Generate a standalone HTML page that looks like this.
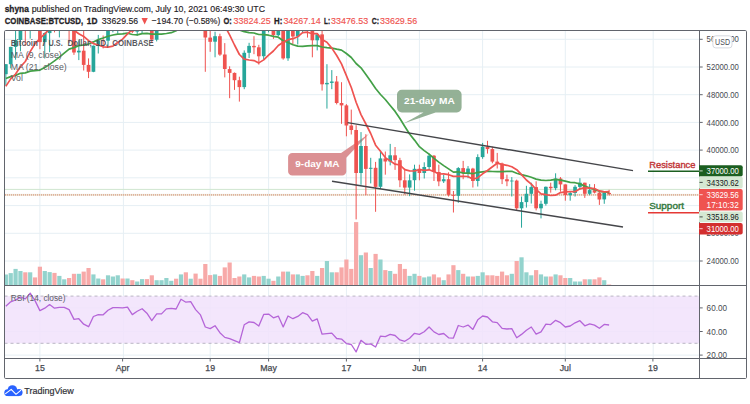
<!DOCTYPE html>
<html><head><meta charset="utf-8"><title>BTCUSD</title>
<style>html,body{margin:0;padding:0;background:#fff;width:750px;height:404px;overflow:hidden;font-family:"Liberation Sans",sans-serif}</style></head>
<body>
<svg width="750" height="404" viewBox="0 0 750 404" style="position:absolute;left:0;top:0;font-family:'Liberation Sans',sans-serif">
<rect x="0" y="0" width="750" height="404" fill="#fff"/>
<defs><clipPath id="cm"><rect x="4.5" y="30.5" width="695.0" height="255.0"/></clipPath>
<clipPath id="cr"><rect x="4.5" y="285.5" width="695.0" height="73.0"/></clipPath></defs>
<line x1="39.9" y1="30.5" x2="39.9" y2="358.5" stroke="#e6eff4" stroke-width="1"/>
<line x1="123.4" y1="30.5" x2="123.4" y2="358.5" stroke="#e6eff4" stroke-width="1"/>
<line x1="210.2" y1="30.5" x2="210.2" y2="358.5" stroke="#e6eff4" stroke-width="1"/>
<line x1="268.6" y1="30.5" x2="268.6" y2="358.5" stroke="#e6eff4" stroke-width="1"/>
<line x1="346.4" y1="30.5" x2="346.4" y2="358.5" stroke="#e6eff4" stroke-width="1"/>
<line x1="419.4" y1="30.5" x2="419.4" y2="358.5" stroke="#e6eff4" stroke-width="1"/>
<line x1="482.6" y1="30.5" x2="482.6" y2="358.5" stroke="#e6eff4" stroke-width="1"/>
<line x1="565.3" y1="30.5" x2="565.3" y2="358.5" stroke="#e6eff4" stroke-width="1"/>
<line x1="653.2" y1="30.5" x2="653.2" y2="358.5" stroke="#e6eff4" stroke-width="1"/>
<line x1="4.5" y1="261.0" x2="699.5" y2="261.0" stroke="#e6eff4" stroke-width="1"/>
<line x1="4.5" y1="233.3" x2="699.5" y2="233.3" stroke="#e6eff4" stroke-width="1"/>
<line x1="4.5" y1="205.6" x2="699.5" y2="205.6" stroke="#e6eff4" stroke-width="1"/>
<line x1="4.5" y1="177.8" x2="699.5" y2="177.8" stroke="#e6eff4" stroke-width="1"/>
<line x1="4.5" y1="150.1" x2="699.5" y2="150.1" stroke="#e6eff4" stroke-width="1"/>
<line x1="4.5" y1="122.4" x2="699.5" y2="122.4" stroke="#e6eff4" stroke-width="1"/>
<line x1="4.5" y1="94.7" x2="699.5" y2="94.7" stroke="#e6eff4" stroke-width="1"/>
<line x1="4.5" y1="67.0" x2="699.5" y2="67.0" stroke="#e6eff4" stroke-width="1"/>
<line x1="4.5" y1="39.3" x2="699.5" y2="39.3" stroke="#e6eff4" stroke-width="1"/>
<line x1="4.5" y1="355.1" x2="699.5" y2="355.1" stroke="#e6eff4" stroke-width="1"/>
<line x1="4.5" y1="331.5" x2="699.5" y2="331.5" stroke="#e6eff4" stroke-width="1"/>
<line x1="4.5" y1="307.9" x2="699.5" y2="307.9" stroke="#e6eff4" stroke-width="1"/>
<rect x="4.5" y="296.1" width="695.0" height="47.2" fill="#f1e2fc" fill-opacity="0.85"/>
<line x1="4.5" y1="296.1" x2="699.5" y2="296.1" stroke="#b3afbd" stroke-width="0.9" stroke-dasharray="3,3"/>
<line x1="4.5" y1="343.3" x2="699.5" y2="343.3" stroke="#b3afbd" stroke-width="0.9" stroke-dasharray="3,3"/>
<g clip-path="url(#cm)">
<rect x="3.75" y="274.5" width="4.2" height="11.0" fill="#93d3cd"/>
<rect x="8.62" y="273.1" width="4.2" height="12.4" fill="#93d3cd"/>
<rect x="13.48" y="268.9" width="4.2" height="16.6" fill="#93d3cd"/>
<rect x="18.34" y="271.0" width="4.2" height="14.5" fill="#93d3cd"/>
<rect x="23.21" y="272.3" width="4.2" height="13.2" fill="#f7a9a8"/>
<rect x="28.08" y="272.3" width="4.2" height="13.2" fill="#93d3cd"/>
<rect x="32.94" y="277.4" width="4.2" height="8.1" fill="#f7a9a8"/>
<rect x="37.80" y="266.7" width="4.2" height="18.8" fill="#f7a9a8"/>
<rect x="42.67" y="271.0" width="4.2" height="14.5" fill="#93d3cd"/>
<rect x="47.54" y="272.1" width="4.2" height="13.4" fill="#93d3cd"/>
<rect x="52.40" y="272.9" width="4.2" height="12.6" fill="#f7a9a8"/>
<rect x="57.27" y="275.9" width="4.2" height="9.6" fill="#93d3cd"/>
<rect x="62.13" y="279.3" width="4.2" height="6.2" fill="#93d3cd"/>
<rect x="67.00" y="278.0" width="4.2" height="7.5" fill="#f7a9a8"/>
<rect x="71.86" y="273.8" width="4.2" height="11.7" fill="#f7a9a8"/>
<rect x="76.73" y="273.8" width="4.2" height="11.7" fill="#93d3cd"/>
<rect x="81.59" y="271.6" width="4.2" height="13.9" fill="#f7a9a8"/>
<rect x="86.45" y="268.0" width="4.2" height="17.5" fill="#f7a9a8"/>
<rect x="91.32" y="274.4" width="4.2" height="11.1" fill="#93d3cd"/>
<rect x="96.19" y="278.5" width="4.2" height="7.0" fill="#93d3cd"/>
<rect x="101.05" y="279.3" width="4.2" height="6.2" fill="#f7a9a8"/>
<rect x="105.92" y="275.3" width="4.2" height="10.2" fill="#93d3cd"/>
<rect x="110.78" y="276.5" width="4.2" height="9.0" fill="#93d3cd"/>
<rect x="115.65" y="275.3" width="4.2" height="10.2" fill="#93d3cd"/>
<rect x="120.51" y="278.5" width="4.2" height="7.0" fill="#f7a9a8"/>
<rect x="125.38" y="278.5" width="4.2" height="7.0" fill="#93d3cd"/>
<rect x="130.24" y="280.2" width="4.2" height="5.3" fill="#f7a9a8"/>
<rect x="135.11" y="281.5" width="4.2" height="4.0" fill="#93d3cd"/>
<rect x="139.97" y="279.1" width="4.2" height="6.4" fill="#93d3cd"/>
<rect x="144.84" y="279.1" width="4.2" height="6.4" fill="#f7a9a8"/>
<rect x="149.70" y="275.3" width="4.2" height="10.2" fill="#f7a9a8"/>
<rect x="154.56" y="280.2" width="4.2" height="5.3" fill="#93d3cd"/>
<rect x="159.43" y="280.2" width="4.2" height="5.3" fill="#93d3cd"/>
<rect x="164.30" y="278.0" width="4.2" height="7.5" fill="#93d3cd"/>
<rect x="169.16" y="280.8" width="4.2" height="4.7" fill="#93d3cd"/>
<rect x="174.03" y="278.7" width="4.2" height="6.8" fill="#f7a9a8"/>
<rect x="178.89" y="274.4" width="4.2" height="11.1" fill="#93d3cd"/>
<rect x="183.75" y="272.3" width="4.2" height="13.2" fill="#f7a9a8"/>
<rect x="188.62" y="278.7" width="4.2" height="6.8" fill="#93d3cd"/>
<rect x="193.49" y="273.6" width="4.2" height="11.9" fill="#f7a9a8"/>
<rect x="198.35" y="278.7" width="4.2" height="6.8" fill="#f7a9a8"/>
<rect x="203.22" y="264.0" width="4.2" height="21.5" fill="#f7a9a8"/>
<rect x="208.08" y="275.1" width="4.2" height="10.4" fill="#f7a9a8"/>
<rect x="212.95" y="274.4" width="4.2" height="11.1" fill="#93d3cd"/>
<rect x="217.81" y="275.9" width="4.2" height="9.6" fill="#f7a9a8"/>
<rect x="222.68" y="267.4" width="4.2" height="18.1" fill="#f7a9a8"/>
<rect x="227.54" y="262.5" width="4.2" height="23.0" fill="#f7a9a8"/>
<rect x="232.41" y="278.0" width="4.2" height="7.5" fill="#f7a9a8"/>
<rect x="237.27" y="276.5" width="4.2" height="9.0" fill="#f7a9a8"/>
<rect x="242.14" y="274.4" width="4.2" height="11.1" fill="#93d3cd"/>
<rect x="247.00" y="277.4" width="4.2" height="8.1" fill="#93d3cd"/>
<rect x="251.87" y="275.9" width="4.2" height="9.6" fill="#f7a9a8"/>
<rect x="256.73" y="276.5" width="4.2" height="9.0" fill="#f7a9a8"/>
<rect x="261.60" y="275.9" width="4.2" height="9.6" fill="#93d3cd"/>
<rect x="266.46" y="278.7" width="4.2" height="6.8" fill="#93d3cd"/>
<rect x="271.32" y="280.8" width="4.2" height="4.7" fill="#f7a9a8"/>
<rect x="276.19" y="276.5" width="4.2" height="9.0" fill="#93d3cd"/>
<rect x="281.06" y="271.6" width="4.2" height="13.9" fill="#f7a9a8"/>
<rect x="285.92" y="271.6" width="4.2" height="13.9" fill="#93d3cd"/>
<rect x="290.79" y="274.4" width="4.2" height="11.1" fill="#f7a9a8"/>
<rect x="295.65" y="274.4" width="4.2" height="11.1" fill="#93d3cd"/>
<rect x="300.51" y="275.9" width="4.2" height="9.6" fill="#93d3cd"/>
<rect x="305.38" y="275.3" width="4.2" height="10.2" fill="#f7a9a8"/>
<rect x="310.25" y="271.0" width="4.2" height="14.5" fill="#f7a9a8"/>
<rect x="315.11" y="275.9" width="4.2" height="9.6" fill="#93d3cd"/>
<rect x="319.98" y="268.0" width="4.2" height="17.5" fill="#f7a9a8"/>
<rect x="324.84" y="261.0" width="4.2" height="24.5" fill="#93d3cd"/>
<rect x="329.71" y="272.3" width="4.2" height="13.2" fill="#93d3cd"/>
<rect x="334.57" y="272.3" width="4.2" height="13.2" fill="#f7a9a8"/>
<rect x="339.44" y="267.4" width="4.2" height="18.1" fill="#f7a9a8"/>
<rect x="344.30" y="259.5" width="4.2" height="26.0" fill="#f7a9a8"/>
<rect x="349.17" y="268.9" width="4.2" height="16.6" fill="#f7a9a8"/>
<rect x="354.03" y="222.1" width="4.2" height="63.4" fill="#f7a9a8"/>
<rect x="358.90" y="255.2" width="4.2" height="30.3" fill="#93d3cd"/>
<rect x="363.76" y="252.5" width="4.2" height="33.0" fill="#f7a9a8"/>
<rect x="368.62" y="268.0" width="4.2" height="17.5" fill="#93d3cd"/>
<rect x="373.49" y="253.9" width="4.2" height="31.6" fill="#f7a9a8"/>
<rect x="378.36" y="259.5" width="4.2" height="26.0" fill="#93d3cd"/>
<rect x="383.22" y="270.1" width="4.2" height="15.4" fill="#f7a9a8"/>
<rect x="388.09" y="271.0" width="4.2" height="14.5" fill="#93d3cd"/>
<rect x="392.95" y="273.8" width="4.2" height="11.7" fill="#f7a9a8"/>
<rect x="397.81" y="264.0" width="4.2" height="21.5" fill="#f7a9a8"/>
<rect x="402.68" y="268.9" width="4.2" height="16.6" fill="#f7a9a8"/>
<rect x="407.55" y="275.9" width="4.2" height="9.6" fill="#93d3cd"/>
<rect x="412.41" y="273.8" width="4.2" height="11.7" fill="#93d3cd"/>
<rect x="417.28" y="275.9" width="4.2" height="9.6" fill="#f7a9a8"/>
<rect x="422.14" y="277.4" width="4.2" height="8.1" fill="#93d3cd"/>
<rect x="427.00" y="276.5" width="4.2" height="9.0" fill="#93d3cd"/>
<rect x="431.87" y="274.4" width="4.2" height="11.1" fill="#f7a9a8"/>
<rect x="436.74" y="277.4" width="4.2" height="8.1" fill="#f7a9a8"/>
<rect x="441.60" y="280.2" width="4.2" height="5.3" fill="#93d3cd"/>
<rect x="446.47" y="274.4" width="4.2" height="11.1" fill="#f7a9a8"/>
<rect x="451.33" y="265.2" width="4.2" height="20.3" fill="#f7a9a8"/>
<rect x="456.19" y="270.1" width="4.2" height="15.4" fill="#93d3cd"/>
<rect x="461.06" y="273.8" width="4.2" height="11.7" fill="#f7a9a8"/>
<rect x="465.93" y="276.5" width="4.2" height="9.0" fill="#93d3cd"/>
<rect x="470.79" y="276.5" width="4.2" height="9.0" fill="#f7a9a8"/>
<rect x="475.66" y="275.9" width="4.2" height="9.6" fill="#93d3cd"/>
<rect x="480.52" y="272.3" width="4.2" height="13.2" fill="#93d3cd"/>
<rect x="485.39" y="275.3" width="4.2" height="10.2" fill="#f7a9a8"/>
<rect x="490.25" y="275.3" width="4.2" height="10.2" fill="#f7a9a8"/>
<rect x="495.12" y="275.9" width="4.2" height="9.6" fill="#f7a9a8"/>
<rect x="499.98" y="271.6" width="4.2" height="13.9" fill="#f7a9a8"/>
<rect x="504.85" y="275.3" width="4.2" height="10.2" fill="#f7a9a8"/>
<rect x="509.71" y="273.8" width="4.2" height="11.7" fill="#93d3cd"/>
<rect x="514.58" y="261.0" width="4.2" height="24.5" fill="#f7a9a8"/>
<rect x="519.44" y="257.3" width="4.2" height="28.2" fill="#93d3cd"/>
<rect x="524.31" y="272.3" width="4.2" height="13.2" fill="#93d3cd"/>
<rect x="529.17" y="275.3" width="4.2" height="10.2" fill="#93d3cd"/>
<rect x="534.03" y="270.1" width="4.2" height="15.4" fill="#f7a9a8"/>
<rect x="538.90" y="274.4" width="4.2" height="11.1" fill="#93d3cd"/>
<rect x="543.76" y="276.5" width="4.2" height="9.0" fill="#93d3cd"/>
<rect x="548.63" y="276.5" width="4.2" height="9.0" fill="#f7a9a8"/>
<rect x="553.50" y="274.4" width="4.2" height="11.1" fill="#93d3cd"/>
<rect x="558.36" y="275.3" width="4.2" height="10.2" fill="#f7a9a8"/>
<rect x="563.23" y="278.0" width="4.2" height="7.5" fill="#f7a9a8"/>
<rect x="568.09" y="278.0" width="4.2" height="7.5" fill="#93d3cd"/>
<rect x="572.96" y="281.5" width="4.2" height="4.0" fill="#93d3cd"/>
<rect x="577.82" y="281.5" width="4.2" height="4.0" fill="#93d3cd"/>
<rect x="582.69" y="279.3" width="4.2" height="6.2" fill="#f7a9a8"/>
<rect x="587.55" y="279.3" width="4.2" height="6.2" fill="#93d3cd"/>
<rect x="592.42" y="279.3" width="4.2" height="6.2" fill="#f7a9a8"/>
<rect x="597.28" y="277.4" width="4.2" height="8.1" fill="#f7a9a8"/>
<rect x="602.14" y="280.2" width="4.2" height="5.3" fill="#93d3cd"/>
<rect x="607.01" y="284.5" width="4.2" height="1.0" fill="#f7a9a8"/>
<line x1="4.5" y1="189.4" x2="699.5" y2="189.4" stroke="#cfe6cf" stroke-width="1"/>
<rect x="4.5" y="193.9" width="695.0" height="1.9" fill="#ebe4d4" fill-opacity="0.9"/>
<line x1="5" y1="194.85" x2="699.5" y2="194.85" stroke="#d98f78" stroke-width="1.9" stroke-dasharray="1,1" stroke-opacity="0.62"/>
<path d="M401.8 89.8 H456.8 a4.8 4.8 0 0 1 4.8 4.8 V107.6 a4.8 4.8 0 0 1 -4.8 4.8 H435.6 L403.6 123.4 L423.5 112.4 H401.8 a4.8 4.8 0 0 1 -4.8 -4.8 V94.6 a4.8 4.8 0 0 1 4.8 -4.8 Z" fill="#8cab8e" fill-opacity="0.93"/>
<text x="404" y="103.9" font-size="8.7" font-weight="bold" fill="#fff" textLength="50.7" lengthAdjust="spacingAndGlyphs">21-day MA</text>
<path d="M292.3 152.9 H341.1 L369 133.8 L346.3 157.7 V171.4 a4.2 4.2 0 0 1 -4.2 4.2 H292.3 a4.2 4.2 0 0 1 -4.2 -4.2 V157.1 a4.2 4.2 0 0 1 4.2 -4.2 Z" fill="#d98a8d" fill-opacity="0.95"/>
<text x="295.3" y="167" font-size="8.7" font-weight="bold" fill="#fff" textLength="44.2" lengthAdjust="spacingAndGlyphs">9-day MA</text>
<line x1="5.85" y1="64.1" x2="5.85" y2="85.7" stroke="#26a69a" stroke-width="1"/>
<rect x="4.00" y="64.2" width="3.7" height="10.0" fill="#26a69a"/>
<line x1="10.71" y1="46.8" x2="10.71" y2="68.4" stroke="#26a69a" stroke-width="1"/>
<rect x="8.87" y="46.9" width="3.7" height="17.3" fill="#26a69a"/>
<line x1="15.58" y1="29.6" x2="15.58" y2="59.7" stroke="#26a69a" stroke-width="1"/>
<rect x="13.73" y="40.0" width="3.7" height="6.9" fill="#26a69a"/>
<line x1="20.45" y1="24.4" x2="20.45" y2="51.3" stroke="#26a69a" stroke-width="1"/>
<rect x="18.59" y="26.8" width="3.7" height="13.2" fill="#26a69a"/>
<line x1="25.31" y1="24.9" x2="25.31" y2="45.9" stroke="#ef5350" stroke-width="1"/>
<rect x="23.46" y="26.8" width="3.7" height="3.8" fill="#ef5350"/>
<line x1="30.18" y1="-0.9" x2="30.18" y2="38.6" stroke="#26a69a" stroke-width="1"/>
<rect x="28.33" y="3.3" width="3.7" height="27.4" fill="#26a69a"/>
<line x1="35.04" y1="-0.2" x2="35.04" y2="18.9" stroke="#ef5350" stroke-width="1"/>
<rect x="33.19" y="3.3" width="3.7" height="15.2" fill="#ef5350"/>
<line x1="39.91" y1="7.4" x2="39.91" y2="49.2" stroke="#ef5350" stroke-width="1"/>
<rect x="38.05" y="18.5" width="3.7" height="23.6" fill="#ef5350"/>
<line x1="44.77" y1="32.6" x2="44.77" y2="58.5" stroke="#26a69a" stroke-width="1"/>
<rect x="42.92" y="33.1" width="3.7" height="9.0" fill="#26a69a"/>
<line x1="49.64" y1="18.6" x2="49.64" y2="52.2" stroke="#26a69a" stroke-width="1"/>
<rect x="47.79" y="19.2" width="3.7" height="13.9" fill="#26a69a"/>
<line x1="54.50" y1="10.9" x2="54.50" y2="32.4" stroke="#ef5350" stroke-width="1"/>
<rect x="52.65" y="19.2" width="3.7" height="8.7" fill="#ef5350"/>
<line x1="59.37" y1="15.3" x2="59.37" y2="37.4" stroke="#26a69a" stroke-width="1"/>
<rect x="57.52" y="24.7" width="3.7" height="3.1" fill="#26a69a"/>
<line x1="64.23" y1="12.3" x2="64.23" y2="26.8" stroke="#26a69a" stroke-width="1"/>
<rect x="62.38" y="24.7" width="3.7" height="0.8" fill="#26a69a"/>
<line x1="69.09" y1="21.1" x2="69.09" y2="42.8" stroke="#ef5350" stroke-width="1"/>
<rect x="67.25" y="24.7" width="3.7" height="4.8" fill="#ef5350"/>
<line x1="73.96" y1="22.5" x2="73.96" y2="54.9" stroke="#ef5350" stroke-width="1"/>
<rect x="72.11" y="29.6" width="3.7" height="22.9" fill="#ef5350"/>
<line x1="78.83" y1="40.3" x2="78.83" y2="60.1" stroke="#26a69a" stroke-width="1"/>
<rect x="76.98" y="50.7" width="3.7" height="1.7" fill="#26a69a"/>
<line x1="83.69" y1="31.0" x2="83.69" y2="70.5" stroke="#ef5350" stroke-width="1"/>
<rect x="81.84" y="50.7" width="3.7" height="14.2" fill="#ef5350"/>
<line x1="88.55" y1="58.4" x2="88.55" y2="78.1" stroke="#ef5350" stroke-width="1"/>
<rect x="86.70" y="64.9" width="3.7" height="6.9" fill="#ef5350"/>
<line x1="93.42" y1="45.5" x2="93.42" y2="72.2" stroke="#26a69a" stroke-width="1"/>
<rect x="91.57" y="45.7" width="3.7" height="26.1" fill="#26a69a"/>
<line x1="98.28" y1="34.9" x2="98.28" y2="53.5" stroke="#26a69a" stroke-width="1"/>
<rect x="96.44" y="40.3" width="3.7" height="5.4" fill="#26a69a"/>
<line x1="103.15" y1="35.5" x2="103.15" y2="48.4" stroke="#ef5350" stroke-width="1"/>
<rect x="101.30" y="40.3" width="3.7" height="0.8" fill="#ef5350"/>
<line x1="108.02" y1="22.7" x2="108.02" y2="46.9" stroke="#26a69a" stroke-width="1"/>
<rect x="106.17" y="28.2" width="3.7" height="12.5" fill="#26a69a"/>
<line x1="112.88" y1="15.7" x2="112.88" y2="32.4" stroke="#26a69a" stroke-width="1"/>
<rect x="111.03" y="19.9" width="3.7" height="8.3" fill="#26a69a"/>
<line x1="117.75" y1="13.0" x2="117.75" y2="33.7" stroke="#26a69a" stroke-width="1"/>
<rect x="115.90" y="19.9" width="3.7" height="0.8" fill="#26a69a"/>
<line x1="122.61" y1="15.0" x2="122.61" y2="26.1" stroke="#ef5350" stroke-width="1"/>
<rect x="120.76" y="19.9" width="3.7" height="0.8" fill="#ef5350"/>
<line x1="127.47" y1="10.9" x2="127.47" y2="22.7" stroke="#26a69a" stroke-width="1"/>
<rect x="125.62" y="18.5" width="3.7" height="1.9" fill="#26a69a"/>
<line x1="132.34" y1="13.0" x2="132.34" y2="33.1" stroke="#ef5350" stroke-width="1"/>
<rect x="130.49" y="18.5" width="3.7" height="13.2" fill="#ef5350"/>
<line x1="137.21" y1="22.0" x2="137.21" y2="35.8" stroke="#26a69a" stroke-width="1"/>
<rect x="135.36" y="24.0" width="3.7" height="7.6" fill="#26a69a"/>
<line x1="142.07" y1="16.8" x2="142.07" y2="33.7" stroke="#26a69a" stroke-width="1"/>
<rect x="140.22" y="17.8" width="3.7" height="6.2" fill="#26a69a"/>
<line x1="146.94" y1="15.0" x2="146.94" y2="30.3" stroke="#ef5350" stroke-width="1"/>
<rect x="145.09" y="17.8" width="3.7" height="7.6" fill="#ef5350"/>
<line x1="151.80" y1="20.9" x2="151.80" y2="43.1" stroke="#ef5350" stroke-width="1"/>
<rect x="149.95" y="25.4" width="3.7" height="14.2" fill="#ef5350"/>
<line x1="156.66" y1="24.4" x2="156.66" y2="41.4" stroke="#26a69a" stroke-width="1"/>
<rect x="154.81" y="24.9" width="3.7" height="14.8" fill="#26a69a"/>
<line x1="161.53" y1="19.2" x2="161.53" y2="27.9" stroke="#26a69a" stroke-width="1"/>
<rect x="159.68" y="24.7" width="3.7" height="0.8" fill="#26a69a"/>
<line x1="166.40" y1="3.3" x2="166.40" y2="26.1" stroke="#26a69a" stroke-width="1"/>
<rect x="164.55" y="13.0" width="3.7" height="11.8" fill="#26a69a"/>
<line x1="171.26" y1="6.7" x2="171.26" y2="17.1" stroke="#26a69a" stroke-width="1"/>
<rect x="169.41" y="11.6" width="3.7" height="1.4" fill="#26a69a"/>
<line x1="176.12" y1="3.3" x2="176.12" y2="15.7" stroke="#ef5350" stroke-width="1"/>
<rect x="174.28" y="11.6" width="3.7" height="1.0" fill="#ef5350"/>
<line x1="180.99" y1="-14.7" x2="180.99" y2="13.0" stroke="#26a69a" stroke-width="1"/>
<rect x="179.14" y="-13.4" width="3.7" height="26.0" fill="#26a69a"/>
<line x1="185.85" y1="-22.4" x2="185.85" y2="2.6" stroke="#ef5350" stroke-width="1"/>
<rect x="184.00" y="-13.4" width="3.7" height="4.5" fill="#ef5350"/>
<line x1="190.72" y1="-15.1" x2="190.72" y2="-2.3" stroke="#26a69a" stroke-width="1"/>
<rect x="188.87" y="-10.6" width="3.7" height="1.7" fill="#26a69a"/>
<line x1="195.59" y1="-13.4" x2="195.59" y2="11.6" stroke="#ef5350" stroke-width="1"/>
<rect x="193.74" y="-10.6" width="3.7" height="12.5" fill="#ef5350"/>
<line x1="200.45" y1="-6.1" x2="200.45" y2="14.4" stroke="#ef5350" stroke-width="1"/>
<rect x="198.60" y="1.9" width="3.7" height="9.4" fill="#ef5350"/>
<line x1="205.31" y1="8.8" x2="205.31" y2="71.8" stroke="#ef5350" stroke-width="1"/>
<rect x="203.47" y="11.2" width="3.7" height="26.3" fill="#ef5350"/>
<line x1="210.18" y1="28.2" x2="210.18" y2="51.8" stroke="#ef5350" stroke-width="1"/>
<rect x="208.33" y="37.6" width="3.7" height="4.2" fill="#ef5350"/>
<line x1="215.05" y1="31.7" x2="215.05" y2="57.3" stroke="#26a69a" stroke-width="1"/>
<rect x="213.20" y="36.2" width="3.7" height="5.5" fill="#26a69a"/>
<line x1="219.91" y1="33.7" x2="219.91" y2="55.9" stroke="#ef5350" stroke-width="1"/>
<rect x="218.06" y="36.2" width="3.7" height="18.4" fill="#ef5350"/>
<line x1="224.78" y1="43.1" x2="224.78" y2="77.4" stroke="#ef5350" stroke-width="1"/>
<rect x="222.93" y="54.5" width="3.7" height="14.5" fill="#ef5350"/>
<line x1="229.64" y1="66.3" x2="229.64" y2="98.2" stroke="#ef5350" stroke-width="1"/>
<rect x="227.79" y="69.1" width="3.7" height="3.8" fill="#ef5350"/>
<line x1="234.50" y1="72.5" x2="234.50" y2="89.9" stroke="#ef5350" stroke-width="1"/>
<rect x="232.66" y="72.9" width="3.7" height="7.3" fill="#ef5350"/>
<line x1="239.37" y1="76.7" x2="239.37" y2="101.6" stroke="#ef5350" stroke-width="1"/>
<rect x="237.52" y="80.2" width="3.7" height="6.9" fill="#ef5350"/>
<line x1="244.24" y1="50.4" x2="244.24" y2="89.2" stroke="#26a69a" stroke-width="1"/>
<rect x="242.39" y="52.8" width="3.7" height="34.3" fill="#26a69a"/>
<line x1="249.10" y1="42.8" x2="249.10" y2="58.0" stroke="#26a69a" stroke-width="1"/>
<rect x="247.25" y="45.9" width="3.7" height="6.9" fill="#26a69a"/>
<line x1="253.97" y1="36.2" x2="253.97" y2="54.2" stroke="#ef5350" stroke-width="1"/>
<rect x="252.12" y="45.9" width="3.7" height="1.4" fill="#ef5350"/>
<line x1="258.83" y1="44.8" x2="258.83" y2="64.6" stroke="#ef5350" stroke-width="1"/>
<rect x="256.98" y="47.3" width="3.7" height="9.0" fill="#ef5350"/>
<line x1="263.70" y1="25.5" x2="263.70" y2="59.7" stroke="#26a69a" stroke-width="1"/>
<rect x="261.85" y="27.5" width="3.7" height="28.7" fill="#26a69a"/>
<line x1="268.56" y1="22.0" x2="268.56" y2="32.4" stroke="#26a69a" stroke-width="1"/>
<rect x="266.71" y="26.8" width="3.7" height="0.8" fill="#26a69a"/>
<line x1="273.43" y1="25.8" x2="273.43" y2="38.9" stroke="#ef5350" stroke-width="1"/>
<rect x="271.57" y="26.8" width="3.7" height="8.3" fill="#ef5350"/>
<line x1="278.29" y1="18.6" x2="278.29" y2="36.2" stroke="#26a69a" stroke-width="1"/>
<rect x="276.44" y="31.0" width="3.7" height="4.2" fill="#26a69a"/>
<line x1="283.16" y1="31.0" x2="283.16" y2="59.7" stroke="#ef5350" stroke-width="1"/>
<rect x="281.31" y="31.0" width="3.7" height="27.4" fill="#ef5350"/>
<line x1="288.02" y1="25.4" x2="288.02" y2="60.8" stroke="#26a69a" stroke-width="1"/>
<rect x="286.17" y="29.2" width="3.7" height="29.1" fill="#26a69a"/>
<line x1="292.89" y1="22.7" x2="292.89" y2="44.5" stroke="#ef5350" stroke-width="1"/>
<rect x="291.04" y="29.2" width="3.7" height="7.3" fill="#ef5350"/>
<line x1="297.75" y1="20.6" x2="297.75" y2="44.5" stroke="#26a69a" stroke-width="1"/>
<rect x="295.90" y="29.9" width="3.7" height="6.6" fill="#26a69a"/>
<line x1="302.62" y1="15.0" x2="302.62" y2="33.1" stroke="#26a69a" stroke-width="1"/>
<rect x="300.76" y="19.2" width="3.7" height="10.7" fill="#26a69a"/>
<line x1="307.48" y1="16.4" x2="307.48" y2="37.6" stroke="#ef5350" stroke-width="1"/>
<rect x="305.63" y="19.2" width="3.7" height="4.5" fill="#ef5350"/>
<line x1="312.35" y1="14.4" x2="312.35" y2="57.3" stroke="#ef5350" stroke-width="1"/>
<rect x="310.50" y="23.7" width="3.7" height="16.6" fill="#ef5350"/>
<line x1="317.21" y1="33.1" x2="317.21" y2="50.4" stroke="#26a69a" stroke-width="1"/>
<rect x="315.36" y="34.4" width="3.7" height="5.9" fill="#26a69a"/>
<line x1="322.08" y1="25.4" x2="322.08" y2="90.6" stroke="#ef5350" stroke-width="1"/>
<rect x="320.23" y="34.4" width="3.7" height="49.9" fill="#ef5350"/>
<line x1="326.94" y1="64.2" x2="326.94" y2="108.6" stroke="#26a69a" stroke-width="1"/>
<rect x="325.09" y="82.9" width="3.7" height="1.4" fill="#26a69a"/>
<line x1="331.81" y1="70.1" x2="331.81" y2="89.2" stroke="#26a69a" stroke-width="1"/>
<rect x="329.96" y="81.5" width="3.7" height="1.4" fill="#26a69a"/>
<line x1="336.67" y1="76.0" x2="336.67" y2="104.4" stroke="#ef5350" stroke-width="1"/>
<rect x="334.82" y="81.5" width="3.7" height="21.5" fill="#ef5350"/>
<line x1="341.54" y1="82.2" x2="341.54" y2="123.8" stroke="#ef5350" stroke-width="1"/>
<rect x="339.69" y="103.0" width="3.7" height="2.4" fill="#ef5350"/>
<line x1="346.40" y1="104.1" x2="346.40" y2="136.3" stroke="#ef5350" stroke-width="1"/>
<rect x="344.55" y="105.4" width="3.7" height="20.1" fill="#ef5350"/>
<line x1="351.27" y1="109.6" x2="351.27" y2="134.5" stroke="#ef5350" stroke-width="1"/>
<rect x="349.42" y="125.5" width="3.7" height="4.5" fill="#ef5350"/>
<line x1="356.13" y1="125.2" x2="356.13" y2="219.4" stroke="#ef5350" stroke-width="1"/>
<rect x="354.28" y="130.0" width="3.7" height="43.0" fill="#ef5350"/>
<line x1="361.00" y1="132.1" x2="361.00" y2="184.8" stroke="#26a69a" stroke-width="1"/>
<rect x="359.15" y="146.0" width="3.7" height="27.0" fill="#26a69a"/>
<line x1="365.86" y1="134.2" x2="365.86" y2="195.2" stroke="#ef5350" stroke-width="1"/>
<rect x="364.01" y="146.0" width="3.7" height="22.9" fill="#ef5350"/>
<line x1="370.73" y1="157.8" x2="370.73" y2="183.4" stroke="#26a69a" stroke-width="1"/>
<rect x="368.88" y="167.8" width="3.7" height="1.0" fill="#26a69a"/>
<line x1="375.59" y1="161.9" x2="375.59" y2="211.8" stroke="#ef5350" stroke-width="1"/>
<rect x="373.74" y="167.8" width="3.7" height="19.1" fill="#ef5350"/>
<line x1="380.46" y1="150.5" x2="380.46" y2="188.9" stroke="#26a69a" stroke-width="1"/>
<rect x="378.61" y="158.4" width="3.7" height="28.4" fill="#26a69a"/>
<line x1="385.32" y1="151.5" x2="385.32" y2="174.7" stroke="#ef5350" stroke-width="1"/>
<rect x="383.47" y="158.4" width="3.7" height="3.1" fill="#ef5350"/>
<line x1="390.19" y1="143.9" x2="390.19" y2="165.4" stroke="#26a69a" stroke-width="1"/>
<rect x="388.34" y="155.3" width="3.7" height="6.2" fill="#26a69a"/>
<line x1="395.05" y1="147.0" x2="395.05" y2="169.9" stroke="#ef5350" stroke-width="1"/>
<rect x="393.20" y="155.3" width="3.7" height="4.8" fill="#ef5350"/>
<line x1="399.92" y1="157.8" x2="399.92" y2="187.2" stroke="#ef5350" stroke-width="1"/>
<rect x="398.06" y="160.2" width="3.7" height="20.1" fill="#ef5350"/>
<line x1="404.78" y1="168.5" x2="404.78" y2="194.5" stroke="#ef5350" stroke-width="1"/>
<rect x="402.93" y="180.3" width="3.7" height="7.3" fill="#ef5350"/>
<line x1="409.65" y1="174.4" x2="409.65" y2="196.2" stroke="#26a69a" stroke-width="1"/>
<rect x="407.80" y="180.3" width="3.7" height="7.3" fill="#26a69a"/>
<line x1="414.51" y1="164.7" x2="414.51" y2="190.7" stroke="#26a69a" stroke-width="1"/>
<rect x="412.66" y="168.8" width="3.7" height="11.4" fill="#26a69a"/>
<line x1="419.38" y1="164.7" x2="419.38" y2="180.3" stroke="#ef5350" stroke-width="1"/>
<rect x="417.53" y="168.8" width="3.7" height="4.2" fill="#ef5350"/>
<line x1="424.24" y1="162.3" x2="424.24" y2="178.5" stroke="#26a69a" stroke-width="1"/>
<rect x="422.39" y="167.0" width="3.7" height="6.0" fill="#26a69a"/>
<line x1="429.11" y1="153.6" x2="429.11" y2="169.9" stroke="#26a69a" stroke-width="1"/>
<rect x="427.25" y="155.7" width="3.7" height="11.3" fill="#26a69a"/>
<line x1="433.97" y1="155.0" x2="433.97" y2="181.0" stroke="#ef5350" stroke-width="1"/>
<rect x="432.12" y="155.7" width="3.7" height="16.3" fill="#ef5350"/>
<line x1="438.84" y1="164.7" x2="438.84" y2="186.2" stroke="#ef5350" stroke-width="1"/>
<rect x="436.99" y="172.0" width="3.7" height="9.4" fill="#ef5350"/>
<line x1="443.70" y1="174.7" x2="443.70" y2="183.0" stroke="#26a69a" stroke-width="1"/>
<rect x="441.85" y="179.2" width="3.7" height="2.1" fill="#26a69a"/>
<line x1="448.57" y1="172.3" x2="448.57" y2="196.5" stroke="#ef5350" stroke-width="1"/>
<rect x="446.72" y="179.2" width="3.7" height="15.6" fill="#ef5350"/>
<line x1="453.43" y1="191.0" x2="453.43" y2="212.5" stroke="#ef5350" stroke-width="1"/>
<rect x="451.58" y="194.8" width="3.7" height="1.0" fill="#ef5350"/>
<line x1="458.30" y1="167.1" x2="458.30" y2="202.8" stroke="#26a69a" stroke-width="1"/>
<rect x="456.44" y="168.1" width="3.7" height="27.7" fill="#26a69a"/>
<line x1="463.16" y1="160.9" x2="463.16" y2="179.2" stroke="#ef5350" stroke-width="1"/>
<rect x="461.31" y="168.1" width="3.7" height="4.8" fill="#ef5350"/>
<line x1="468.03" y1="166.1" x2="468.03" y2="178.2" stroke="#26a69a" stroke-width="1"/>
<rect x="466.18" y="168.6" width="3.7" height="4.4" fill="#26a69a"/>
<line x1="472.89" y1="167.8" x2="472.89" y2="187.5" stroke="#ef5350" stroke-width="1"/>
<rect x="471.04" y="168.6" width="3.7" height="12.4" fill="#ef5350"/>
<line x1="477.76" y1="154.3" x2="477.76" y2="186.5" stroke="#26a69a" stroke-width="1"/>
<rect x="475.91" y="157.1" width="3.7" height="23.9" fill="#26a69a"/>
<line x1="482.62" y1="142.9" x2="482.62" y2="158.8" stroke="#26a69a" stroke-width="1"/>
<rect x="480.77" y="146.7" width="3.7" height="10.4" fill="#26a69a"/>
<line x1="487.49" y1="140.8" x2="487.49" y2="153.6" stroke="#ef5350" stroke-width="1"/>
<rect x="485.64" y="146.7" width="3.7" height="2.4" fill="#ef5350"/>
<line x1="492.35" y1="146.7" x2="492.35" y2="163.3" stroke="#ef5350" stroke-width="1"/>
<rect x="490.50" y="149.1" width="3.7" height="12.5" fill="#ef5350"/>
<line x1="497.22" y1="152.9" x2="497.22" y2="168.5" stroke="#ef5350" stroke-width="1"/>
<rect x="495.37" y="161.6" width="3.7" height="2.1" fill="#ef5350"/>
<line x1="502.08" y1="162.6" x2="502.08" y2="184.1" stroke="#ef5350" stroke-width="1"/>
<rect x="500.23" y="163.6" width="3.7" height="15.6" fill="#ef5350"/>
<line x1="506.95" y1="174.7" x2="506.95" y2="186.2" stroke="#ef5350" stroke-width="1"/>
<rect x="505.10" y="179.2" width="3.7" height="2.1" fill="#ef5350"/>
<line x1="511.81" y1="177.1" x2="511.81" y2="196.5" stroke="#26a69a" stroke-width="1"/>
<rect x="509.96" y="180.6" width="3.7" height="0.8" fill="#26a69a"/>
<line x1="516.68" y1="179.6" x2="516.68" y2="210.7" stroke="#ef5350" stroke-width="1"/>
<rect x="514.83" y="180.6" width="3.7" height="27.7" fill="#ef5350"/>
<line x1="521.54" y1="196.5" x2="521.54" y2="227.7" stroke="#26a69a" stroke-width="1"/>
<rect x="519.69" y="202.1" width="3.7" height="6.2" fill="#26a69a"/>
<line x1="526.41" y1="185.8" x2="526.41" y2="207.6" stroke="#26a69a" stroke-width="1"/>
<rect x="524.56" y="193.8" width="3.7" height="8.3" fill="#26a69a"/>
<line x1="531.27" y1="182.7" x2="531.27" y2="203.5" stroke="#26a69a" stroke-width="1"/>
<rect x="529.42" y="187.1" width="3.7" height="6.7" fill="#26a69a"/>
<line x1="536.13" y1="181.3" x2="536.13" y2="210.4" stroke="#ef5350" stroke-width="1"/>
<rect x="534.28" y="187.1" width="3.7" height="21.2" fill="#ef5350"/>
<line x1="541.00" y1="200.7" x2="541.00" y2="218.4" stroke="#26a69a" stroke-width="1"/>
<rect x="539.15" y="203.8" width="3.7" height="4.5" fill="#26a69a"/>
<line x1="545.87" y1="186.5" x2="545.87" y2="205.6" stroke="#26a69a" stroke-width="1"/>
<rect x="544.01" y="186.8" width="3.7" height="17.0" fill="#26a69a"/>
<line x1="550.73" y1="182.7" x2="550.73" y2="192.7" stroke="#ef5350" stroke-width="1"/>
<rect x="548.88" y="186.8" width="3.7" height="1.4" fill="#ef5350"/>
<line x1="555.60" y1="173.3" x2="555.60" y2="190.3" stroke="#26a69a" stroke-width="1"/>
<rect x="553.75" y="178.5" width="3.7" height="9.7" fill="#26a69a"/>
<line x1="560.46" y1="177.1" x2="560.46" y2="191.7" stroke="#ef5350" stroke-width="1"/>
<rect x="558.61" y="178.5" width="3.7" height="5.9" fill="#ef5350"/>
<line x1="565.33" y1="184.4" x2="565.33" y2="200.7" stroke="#ef5350" stroke-width="1"/>
<rect x="563.48" y="184.4" width="3.7" height="10.7" fill="#ef5350"/>
<line x1="570.19" y1="192.0" x2="570.19" y2="200.7" stroke="#26a69a" stroke-width="1"/>
<rect x="568.34" y="193.1" width="3.7" height="2.1" fill="#26a69a"/>
<line x1="575.06" y1="185.1" x2="575.06" y2="196.5" stroke="#26a69a" stroke-width="1"/>
<rect x="573.21" y="186.8" width="3.7" height="6.2" fill="#26a69a"/>
<line x1="579.92" y1="178.2" x2="579.92" y2="189.3" stroke="#26a69a" stroke-width="1"/>
<rect x="578.07" y="182.7" width="3.7" height="4.2" fill="#26a69a"/>
<line x1="584.79" y1="182.7" x2="584.79" y2="197.9" stroke="#ef5350" stroke-width="1"/>
<rect x="582.94" y="182.7" width="3.7" height="11.1" fill="#ef5350"/>
<line x1="589.65" y1="184.1" x2="589.65" y2="195.2" stroke="#26a69a" stroke-width="1"/>
<rect x="587.80" y="190.1" width="3.7" height="3.7" fill="#26a69a"/>
<line x1="594.52" y1="184.1" x2="594.52" y2="193.4" stroke="#ef5350" stroke-width="1"/>
<rect x="592.67" y="190.1" width="3.7" height="2.5" fill="#ef5350"/>
<line x1="599.38" y1="192.1" x2="599.38" y2="204.9" stroke="#ef5350" stroke-width="1"/>
<rect x="597.53" y="192.6" width="3.7" height="6.9" fill="#ef5350"/>
<line x1="604.25" y1="191.0" x2="604.25" y2="203.8" stroke="#26a69a" stroke-width="1"/>
<rect x="602.39" y="192.9" width="3.7" height="6.5" fill="#26a69a"/>
<line x1="609.11" y1="189.8" x2="609.11" y2="195.3" stroke="#ef5350" stroke-width="1"/>
<rect x="607.26" y="192.9" width="3.7" height="1.3" fill="#ef5350"/>
<polyline points="5.8,78.5 10.7,76.6 15.6,75.4 20.4,73.3 25.3,72.9 30.2,71.1 35.0,70.6 39.9,70.1 44.8,67.5 49.6,64.4 54.5,60.9 59.4,57.1 64.2,53.1 69.1,49.1 74.0,47.6 78.8,45.6 83.7,45.0 88.6,44.0 93.4,41.9 98.3,39.6 103.2,38.0 108.0,36.3 112.9,35.0 117.7,34.1 122.6,33.8 127.5,33.2 132.3,34.5 137.2,34.8 142.1,33.6 146.9,33.3 151.8,34.2 156.7,34.1 161.5,34.1 166.4,33.5 171.3,32.7 176.1,30.8 181.0,27.7 185.9,24.2 190.7,20.3 195.6,18.2 200.5,16.8 205.3,16.7 210.2,17.3 215.0,18.1 219.9,19.7 224.8,22.1 229.6,24.6 234.5,27.0 239.4,30.0 244.2,31.6 249.1,32.6 254.0,33.0 258.8,34.5 263.7,34.6 268.6,35.2 273.4,36.4 278.3,37.2 283.2,40.7 288.0,42.5 292.9,44.7 297.8,46.1 302.6,46.4 307.5,45.8 312.3,45.7 317.2,45.6 322.1,47.0 326.9,47.7 331.8,48.1 336.7,49.2 341.5,50.1 346.4,53.5 351.3,57.5 356.1,63.5 361.0,67.8 365.9,74.5 370.7,81.3 375.6,88.5 380.5,94.5 385.3,99.5 390.2,105.5 395.1,111.4 399.9,118.5 404.8,126.5 409.6,134.0 414.5,140.1 419.4,146.7 424.2,150.6 429.1,154.1 434.0,158.4 438.8,162.1 443.7,165.6 448.6,168.9 453.4,172.1 458.3,171.8 463.2,173.1 468.0,173.1 472.9,173.7 477.8,172.3 482.6,171.8 487.5,171.2 492.4,171.5 497.2,171.6 502.1,171.6 506.9,171.3 511.8,171.3 516.7,173.2 521.5,174.6 526.4,175.8 531.3,177.3 536.1,179.1 541.0,180.1 545.9,180.5 550.7,180.2 555.6,179.4 560.5,180.1 565.3,181.2 570.2,182.4 575.1,182.7 579.9,183.9 584.8,186.1 589.7,188.1 594.5,189.5 599.4,191.3 604.2,191.9 609.1,192.5" fill="none" stroke="#43a047" stroke-width="1.7" stroke-linejoin="round"/>
<polyline points="5.8,86.4 10.7,78.9 15.6,74.0 20.4,66.8 25.3,61.5 30.2,51.6 35.0,43.7 39.9,38.5 44.8,33.9 49.6,28.9 54.5,26.8 59.4,25.1 64.2,24.9 69.1,24.8 74.0,30.2 78.8,33.8 83.7,36.4 88.6,40.7 93.4,43.6 98.3,45.0 103.2,46.8 108.0,47.2 112.9,46.1 117.7,42.5 122.6,39.1 127.5,33.9 132.3,29.5 137.2,27.1 142.1,24.6 146.9,22.9 151.8,24.1 156.7,24.7 161.5,25.2 166.4,24.4 171.3,23.6 176.1,21.5 181.0,17.4 185.9,14.4 190.7,10.4 195.6,6.2 200.5,4.7 205.3,6.1 210.2,9.3 215.0,12.0 219.9,16.7 224.8,25.9 229.6,34.9 234.5,45.0 239.4,54.5 244.2,59.1 249.1,60.0 254.0,60.6 258.8,62.9 263.7,59.9 268.6,55.2 273.4,51.0 278.3,45.5 283.2,42.3 288.0,39.7 292.9,38.7 297.8,36.7 302.6,32.6 307.5,32.2 312.3,33.7 317.2,33.6 322.1,39.6 326.9,42.3 331.8,48.1 336.7,55.5 341.5,63.9 346.4,75.7 351.3,87.5 356.1,102.3 361.0,114.6 365.9,124.0 370.7,133.5 375.6,145.2 380.5,151.3 385.3,157.6 390.2,160.9 395.1,164.2 399.9,165.0 404.8,169.6 409.6,170.9 414.5,171.0 419.4,169.5 424.2,170.4 429.1,169.8 434.0,171.6 438.8,174.0 443.7,173.9 448.6,174.7 453.4,176.4 458.3,176.3 463.2,176.3 468.0,176.5 472.9,179.3 477.8,177.7 482.6,173.8 487.5,170.5 492.4,166.8 497.2,163.2 502.1,164.4 506.9,165.3 511.8,166.7 516.7,169.7 521.5,174.7 526.4,180.0 531.3,184.2 536.1,189.4 541.0,193.8 545.9,194.7 550.7,195.5 555.6,195.2 560.5,192.6 565.3,191.8 570.2,191.7 575.1,191.7 579.9,188.8 584.8,187.7 589.7,188.1 594.5,188.6 599.4,190.9 604.2,191.8 609.1,191.7" fill="none" stroke="#ef5350" stroke-width="1.7" stroke-linejoin="round"/>
<line x1="347.5" y1="122.6" x2="633" y2="170.6" stroke="#45464a" stroke-width="1.45"/>
<line x1="332" y1="181.3" x2="623" y2="227" stroke="#45464a" stroke-width="1.45"/>
</g>
<g clip-path="url(#cr)">
<polyline points="5.8,306.3 10.7,301.8 15.6,300.0 20.4,297.0 25.3,298.9 30.2,293.1 35.0,300.6 39.9,310.6 44.8,308.2 49.6,304.6 54.5,308.2 59.4,307.3 64.2,307.3 69.1,309.6 74.0,319.4 78.8,318.7 83.7,324.2 88.6,326.7 93.4,316.5 98.3,314.6 103.2,314.8 108.0,310.3 112.9,307.6 117.7,307.6 122.6,307.8 127.5,307.1 132.3,314.6 137.2,311.3 142.1,308.7 146.9,313.2 151.8,320.6 156.7,313.9 161.5,313.9 166.4,308.9 171.3,308.3 176.1,309.0 181.0,299.3 185.9,302.2 190.7,301.6 195.6,309.6 200.5,314.9 205.3,327.0 210.2,328.6 215.0,325.7 219.9,332.7 224.8,337.4 229.6,338.6 234.5,340.7 239.4,342.7 244.2,324.8 249.1,321.9 254.0,322.5 258.8,326.1 263.7,314.4 268.6,314.1 273.4,317.8 278.3,316.1 283.2,326.9 288.0,316.0 292.9,318.7 297.8,316.4 302.6,312.7 307.5,314.6 312.3,321.2 317.2,318.9 322.1,334.2 326.9,333.7 331.8,333.1 336.7,338.5 341.5,339.1 346.4,343.6 351.3,344.5 356.1,351.9 361.0,340.3 365.9,344.3 370.7,343.9 375.6,347.0 380.5,336.1 385.3,336.7 390.2,334.4 395.1,335.5 399.9,339.9 404.8,341.3 409.6,338.2 414.5,333.3 419.4,334.4 424.2,331.8 429.1,327.0 434.0,331.9 438.8,334.5 443.7,333.5 448.6,337.8 453.4,338.1 458.3,325.5 463.2,327.0 468.0,325.1 472.9,329.4 477.8,319.7 482.6,316.0 487.5,317.0 492.4,321.8 497.2,322.6 502.1,328.3 506.9,329.0 511.8,328.6 516.7,337.7 521.5,334.4 526.4,330.3 531.3,327.0 536.1,334.1 541.0,331.9 545.9,324.1 550.7,324.6 555.6,320.3 560.5,322.7 565.3,327.0 570.2,326.0 575.1,322.8 579.9,320.7 584.8,325.8 589.7,323.9 594.5,325.1 599.4,328.3 604.2,324.4 609.1,325.0" fill="none" stroke="#b565d8" stroke-width="1.3" stroke-linejoin="round"/>
</g>
<line x1="648" y1="171.2" x2="699" y2="171.2" stroke="#1b5e20" stroke-width="1.5"/>
<text x="649.2" y="168.3" font-size="9.5" fill="#c23638" stroke="#c23638" stroke-width="0.4" textLength="46.3" lengthAdjust="spacingAndGlyphs">Resistance</text>
<line x1="648" y1="212.8" x2="699" y2="212.8" stroke="#e53935" stroke-width="1.5"/>
<text x="649.2" y="208.8" font-size="9.5" fill="#357a3e" stroke="#357a3e" stroke-width="0.4" textLength="34.8" lengthAdjust="spacingAndGlyphs">Support</text>
<rect x="4.5" y="30.5" width="742.0" height="348.0" rx="1.2" fill="none" stroke="#62656d" stroke-width="1"/>
<line x1="699.5" y1="30.5" x2="699.5" y2="378.5" stroke="#62656d" stroke-width="1"/>
<line x1="4.5" y1="285.5" x2="746.5" y2="285.5" stroke="#62656d" stroke-width="1"/>
<line x1="4.5" y1="358.5" x2="746.5" y2="358.5" stroke="#62656d" stroke-width="1"/>
<line x1="699.5" y1="261.0" x2="702.7" y2="261.0" stroke="#62656d" stroke-width="1"/>
<text x="706.6" y="264.1" font-size="8.9" fill="#474a51" textLength="32.2" lengthAdjust="spacingAndGlyphs">24000.00</text>
<line x1="699.5" y1="233.3" x2="702.7" y2="233.3" stroke="#62656d" stroke-width="1"/>
<text x="706.6" y="236.4" font-size="8.9" fill="#474a51" textLength="32.2" lengthAdjust="spacingAndGlyphs">28000.00</text>
<line x1="699.5" y1="205.6" x2="702.7" y2="205.6" stroke="#62656d" stroke-width="1"/>
<line x1="699.5" y1="177.8" x2="702.7" y2="177.8" stroke="#62656d" stroke-width="1"/>
<line x1="699.5" y1="150.1" x2="702.7" y2="150.1" stroke="#62656d" stroke-width="1"/>
<text x="706.6" y="153.2" font-size="8.9" fill="#474a51" textLength="32.2" lengthAdjust="spacingAndGlyphs">40000.00</text>
<line x1="699.5" y1="122.4" x2="702.7" y2="122.4" stroke="#62656d" stroke-width="1"/>
<text x="706.6" y="125.5" font-size="8.9" fill="#474a51" textLength="32.2" lengthAdjust="spacingAndGlyphs">44000.00</text>
<line x1="699.5" y1="94.7" x2="702.7" y2="94.7" stroke="#62656d" stroke-width="1"/>
<text x="706.6" y="97.8" font-size="8.9" fill="#474a51" textLength="32.2" lengthAdjust="spacingAndGlyphs">48000.00</text>
<line x1="699.5" y1="67.0" x2="702.7" y2="67.0" stroke="#62656d" stroke-width="1"/>
<text x="706.6" y="70.1" font-size="8.9" fill="#474a51" textLength="32.2" lengthAdjust="spacingAndGlyphs">52000.00</text>
<line x1="699.5" y1="39.3" x2="702.7" y2="39.3" stroke="#62656d" stroke-width="1"/>
<text x="706.6" y="42.4" font-size="8.9" fill="#474a51" textLength="32.2" lengthAdjust="spacingAndGlyphs">56000.00</text>
<line x1="699.5" y1="355.1" x2="702.7" y2="355.1" stroke="#62656d" stroke-width="1"/>
<text x="706.6" y="358.2" font-size="8.9" fill="#474a51" textLength="20.4" lengthAdjust="spacingAndGlyphs">20.00</text>
<line x1="699.5" y1="331.5" x2="702.7" y2="331.5" stroke="#62656d" stroke-width="1"/>
<text x="706.6" y="334.6" font-size="8.9" fill="#474a51" textLength="20.4" lengthAdjust="spacingAndGlyphs">40.00</text>
<line x1="699.5" y1="307.9" x2="702.7" y2="307.9" stroke="#62656d" stroke-width="1"/>
<text x="706.6" y="311.0" font-size="8.9" fill="#474a51" textLength="20.4" lengthAdjust="spacingAndGlyphs">60.00</text>
<rect x="700.0" y="359.0" width="46.0" height="19.0" fill="#fff"/>
<path d="M699.0 165.2 H740.7 a2 2 0 0 1 2 2 V174.6 a2 2 0 0 1 -2 2 H699.0 Z" fill="#1b5e20"/>
<line x1="699.5" y1="170.9" x2="702.7" y2="170.9" stroke="#fff" stroke-width="1" stroke-opacity="0.75"/>
<text x="706.6" y="174.0" font-size="8.9" fill="#fff" textLength="32.2" lengthAdjust="spacingAndGlyphs">37000.00</text>
<path d="M699.0 176.4 H740.7 a2 2 0 0 1 2 2 V186.4 a2 2 0 0 1 -2 2 H699.0 Z" fill="#d5e8d3"/>
<line x1="699.5" y1="182.4" x2="702.7" y2="182.4" stroke="#16181c" stroke-width="1" stroke-opacity="0.75"/>
<text x="706.6" y="185.5" font-size="8.9" fill="#16181c" textLength="32.2" lengthAdjust="spacingAndGlyphs">34330.62</text>
<path d="M699.0 189.1 H740.7 a2 2 0 0 1 2 2 V208.6 a2 2 0 0 1 -2 2 H699.0 Z" fill="#ef5350"/>
<line x1="699.5" y1="194.7" x2="702.7" y2="194.7" stroke="#fff" stroke-width="1" stroke-opacity="0.75"/>
<text x="706.6" y="197.6" font-size="8.9" fill="#fff" textLength="32.2" lengthAdjust="spacingAndGlyphs">33629.56</text>
<text x="706.6" y="208.2" font-size="8.9" fill="#fff" textLength="32.2" lengthAdjust="spacingAndGlyphs">17:10:32</text>
<path d="M699.0 211.6 H740.7 a2 2 0 0 1 2 2 V220.2 a2 2 0 0 1 -2 2 H699.0 Z" fill="#d5e8d3"/>
<line x1="699.5" y1="216.9" x2="702.7" y2="216.9" stroke="#16181c" stroke-width="1" stroke-opacity="0.75"/>
<text x="706.6" y="220.0" font-size="8.9" fill="#16181c" textLength="32.2" lengthAdjust="spacingAndGlyphs">33518.96</text>
<path d="M699.0 222.9 H740.7 a2 2 0 0 1 2 2 V232.4 a2 2 0 0 1 -2 2 H699.0 Z" fill="#d32f2f"/>
<line x1="699.5" y1="228.7" x2="702.7" y2="228.7" stroke="#fff" stroke-width="1" stroke-opacity="0.75"/>
<text x="706.6" y="231.8" font-size="8.9" fill="#fff" textLength="32.2" lengthAdjust="spacingAndGlyphs">31000.00</text>
<rect x="712.9" y="35.8" width="19.1" height="12.1" rx="2.8" fill="#fff" stroke="#d6d9e0" stroke-width="1"/>
<text x="715.1" y="44.9" font-size="9" fill="#4a4d55" textLength="14.9" lengthAdjust="spacingAndGlyphs">USD</text>
<line x1="39.9" y1="358.5" x2="39.9" y2="361.5" stroke="#62656d" stroke-width="1"/>
<text x="39.9" y="370.6" font-size="8.8" fill="#474a51" stroke="#474a51" stroke-width="0.25" text-anchor="middle">15</text>
<line x1="122.6" y1="358.5" x2="122.6" y2="361.5" stroke="#62656d" stroke-width="1"/>
<text x="122.6" y="370.6" font-size="8.8" fill="#474a51" stroke="#474a51" stroke-width="0.25" text-anchor="middle">Apr</text>
<line x1="210.2" y1="358.5" x2="210.2" y2="361.5" stroke="#62656d" stroke-width="1"/>
<text x="210.2" y="370.6" font-size="8.8" fill="#474a51" stroke="#474a51" stroke-width="0.25" text-anchor="middle">19</text>
<line x1="268.6" y1="358.5" x2="268.6" y2="361.5" stroke="#62656d" stroke-width="1"/>
<text x="268.6" y="370.6" font-size="8.8" fill="#474a51" stroke="#474a51" stroke-width="0.25" text-anchor="middle">May</text>
<line x1="346.4" y1="358.5" x2="346.4" y2="361.5" stroke="#62656d" stroke-width="1"/>
<text x="346.4" y="370.6" font-size="8.8" fill="#474a51" stroke="#474a51" stroke-width="0.25" text-anchor="middle">17</text>
<line x1="419.4" y1="358.5" x2="419.4" y2="361.5" stroke="#62656d" stroke-width="1"/>
<text x="419.4" y="370.6" font-size="8.8" fill="#474a51" stroke="#474a51" stroke-width="0.25" text-anchor="middle">Jun</text>
<line x1="482.6" y1="358.5" x2="482.6" y2="361.5" stroke="#62656d" stroke-width="1"/>
<text x="482.6" y="370.6" font-size="8.8" fill="#474a51" stroke="#474a51" stroke-width="0.25" text-anchor="middle">14</text>
<line x1="565.3" y1="358.5" x2="565.3" y2="361.5" stroke="#62656d" stroke-width="1"/>
<text x="565.3" y="370.6" font-size="8.8" fill="#474a51" stroke="#474a51" stroke-width="0.25" text-anchor="middle">Jul</text>
<line x1="652.9" y1="358.5" x2="652.9" y2="361.5" stroke="#62656d" stroke-width="1"/>
<text x="652.9" y="370.6" font-size="8.8" fill="#474a51" stroke="#474a51" stroke-width="0.25" text-anchor="middle">19</text>
<text x="10.7" y="45.6" font-size="8.7" font-weight="bold" fill="#484a50" fill-opacity="0.92" textLength="27.3" lengthAdjust="spacingAndGlyphs">Bitcoin</text>
<text x="42.4" y="45.6" font-size="8.7" font-weight="bold" fill="#484a50" fill-opacity="0.92" textLength="3.2" lengthAdjust="spacingAndGlyphs">/</text>
<text x="48.5" y="45.6" font-size="8.7" font-weight="bold" fill="#484a50" fill-opacity="0.92" textLength="14.2" lengthAdjust="spacingAndGlyphs">U.S.</text>
<text x="67.6" y="45.6" font-size="8.7" font-weight="bold" fill="#484a50" fill-opacity="0.92" textLength="24.2" lengthAdjust="spacingAndGlyphs">Dollar,</text>
<text x="95.6" y="45.6" font-size="8.7" font-weight="bold" fill="#484a50" fill-opacity="0.92" textLength="12.8" lengthAdjust="spacingAndGlyphs">1D,</text>
<text x="112.3" y="45.6" font-size="8.7" font-weight="bold" fill="#484a50" fill-opacity="0.92" textLength="41.5" lengthAdjust="spacingAndGlyphs">COINBASE</text>
<text x="10.7" y="57.9" font-size="9.2" fill="#5c5e65" textLength="51" lengthAdjust="spacingAndGlyphs">MA (9, close)</text>
<text x="10.7" y="69.5" font-size="9.2" fill="#5c5e65" textLength="56.1" lengthAdjust="spacingAndGlyphs">MA (21, close)</text>
<text x="10.7" y="81.3" font-size="9.2" fill="#5c5e65" textLength="12.2" lengthAdjust="spacingAndGlyphs">Vol</text>
<text x="10.7" y="301.2" font-size="9.2" fill="#5c5e65" textLength="54.8" lengthAdjust="spacingAndGlyphs">RSI (14, close)</text>
<text x="4.7" y="11.6" font-size="9.5" font-weight="bold" fill="#1f2125" stroke="#1f2125" stroke-width="0.3" textLength="24.2" lengthAdjust="spacingAndGlyphs">shyna</text>
<text x="31.7" y="11.6" font-size="9.5" fill="#1f2125" stroke="#1f2125" stroke-width="0.15" textLength="233.3" lengthAdjust="spacingAndGlyphs">published on TradingView.com, July 10, 2021 06:49:30 UTC</text>
<text x="4.7" y="23.9" font-size="9.5" font-weight="bold" fill="#1f2125" stroke="#1f2125" stroke-width="0.3" textLength="78.4" lengthAdjust="spacingAndGlyphs">COINBASE:BTCUSD,</text>
<text x="86.8" y="23.9" font-size="9.5" font-weight="bold" fill="#1f2125" stroke="#1f2125" stroke-width="0.3" textLength="10.6" lengthAdjust="spacingAndGlyphs">1D</text>
<text x="101.7" y="23.9" font-size="9.5" fill="#1f2125" stroke="#1f2125" stroke-width="0.15" textLength="36.5" lengthAdjust="spacingAndGlyphs">33629.56</text>
<polygon points="141.5,17.9 147.8,17.9 144.65,24.5" fill="#ef5350"/>
<text x="151.5" y="23.9" font-size="9.5" fill="#1f2125" stroke="#1f2125" stroke-width="0.15" textLength="31.7" lengthAdjust="spacingAndGlyphs">−194.70</text>
<text x="186" y="23.9" font-size="9.5" fill="#1f2125" stroke="#1f2125" stroke-width="0.15" textLength="34.2" lengthAdjust="spacingAndGlyphs">(−0.58%)</text>
<text x="223.5" y="23.9" font-size="9.5" font-weight="bold" fill="#1f2125" stroke="#1f2125" stroke-width="0.3" textLength="8.3" lengthAdjust="spacingAndGlyphs">O:</text>
<text x="233.6" y="23.9" font-size="9.5" fill="#ef5350" stroke="#ef5350" stroke-width="0.15" textLength="37.2" lengthAdjust="spacingAndGlyphs">33824.25</text>
<text x="274" y="23.9" font-size="9.5" font-weight="bold" fill="#1f2125" stroke="#1f2125" stroke-width="0.3" textLength="8.3" lengthAdjust="spacingAndGlyphs">H:</text>
<text x="283.4" y="23.9" font-size="9.5" fill="#ef5350" stroke="#ef5350" stroke-width="0.15" textLength="37.2" lengthAdjust="spacingAndGlyphs">34267.14</text>
<text x="324" y="23.9" font-size="9.5" font-weight="bold" fill="#1f2125" stroke="#1f2125" stroke-width="0.3" textLength="6" lengthAdjust="spacingAndGlyphs">L:</text>
<text x="331" y="23.9" font-size="9.5" fill="#ef5350" stroke="#ef5350" stroke-width="0.15" textLength="37.2" lengthAdjust="spacingAndGlyphs">33476.53</text>
<text x="371.7" y="23.9" font-size="9.5" font-weight="bold" fill="#1f2125" stroke="#1f2125" stroke-width="0.3" textLength="7.3" lengthAdjust="spacingAndGlyphs">C:</text>
<text x="380" y="23.9" font-size="9.5" fill="#ef5350" stroke="#ef5350" stroke-width="0.15" textLength="37.2" lengthAdjust="spacingAndGlyphs">33629.56</text>
<g fill="#2962ff"><circle cx="7.75" cy="392.65" r="3.45"/><circle cx="12.4" cy="389.9" r="4.75"/><circle cx="19" cy="392.55" r="3.55"/><rect x="7.7" y="390.5" width="11.3" height="5.6"/></g>
<polyline points="5.6,393.7 11.2,389.3 16,394.3 20.7,390.3" fill="none" stroke="#fff" stroke-width="1.05" stroke-linejoin="round" stroke-linecap="round"/>
<text x="24.3" y="393.9" font-size="9.2" fill="#2f3136" stroke="#2f3136" stroke-width="0.2" textLength="49.5" lengthAdjust="spacingAndGlyphs">TradingView</text>
</svg>
</body></html>
